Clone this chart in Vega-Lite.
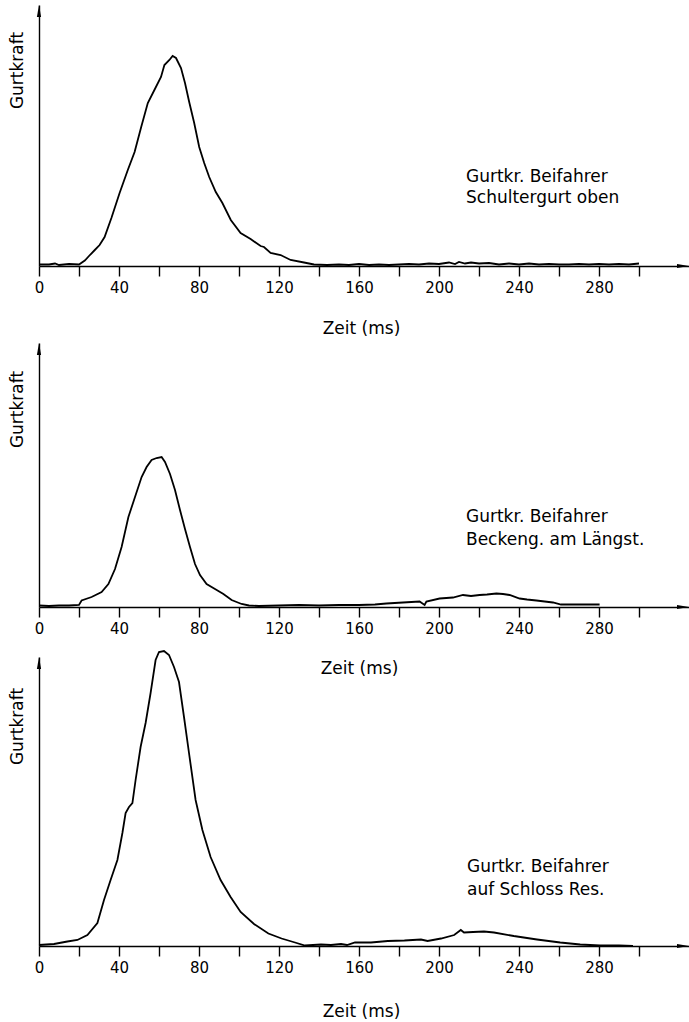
{
  "$schema": "https://vega.github.io/schema/vega-lite/v6.json",
  "background": "white",
  "padding": {"left": 8, "top": 5, "right": 0, "bottom": 0},
  "bounds": "flush",
  "spacing": 77,
  "config": {
    "view": {"stroke": null},
    "font": "DejaVu Sans",
    "axis": {"domainColor": "black", "domainWidth": 1.4, "tickColor": "black", "tickWidth": 1.4, "labelColor": "black", "titleColor": "black", "titleFontWeight": "normal", "grid": false, "labelFont": "DejaVu Sans", "titleFont": "DejaVu Sans"}
  },
  "vconcat": [
    {
      "width": 650,
      "height": 261,
      "layer": [
        {
          "data": {"values": [
            {"t":0,"f":0.03},{"t":5,"f":0.03},{"t":8,"f":0.05},{"t":10,"f":0.02},{"t":15,"f":0.04},{"t":20,"f":0.03},{"t":22.9,"f":0.11},{"t":25,"f":0.2},{"t":27.9,"f":0.32},{"t":30.3,"f":0.42},{"t":32.8,"f":0.58},{"t":36.2,"f":0.96},{"t":40.3,"f":1.46},{"t":44.4,"f":1.92},{"t":47.8,"f":2.28},{"t":51.1,"f":2.78},{"t":54.4,"f":3.26},{"t":57.7,"f":3.52},{"t":61.0,"f":3.78},{"t":62.7,"f":4.02},{"t":65.2,"f":4.12},{"t":66.8,"f":4.2},{"t":68.5,"f":4.16},{"t":71.0,"f":3.96},{"t":73.0,"f":3.66},{"t":75.1,"f":3.28},{"t":77.6,"f":2.86},{"t":80.1,"f":2.38},{"t":82.6,"f":2.06},{"t":85.1,"f":1.78},{"t":88.4,"f":1.48},{"t":91.7,"f":1.26},{"t":95.9,"f":0.92},{"t":100.8,"f":0.66},{"t":105.8,"f":0.54},{"t":110.8,"f":0.4},{"t":112.5,"f":0.38},{"t":115.8,"f":0.26},{"t":120.8,"f":0.22},{"t":125.8,"f":0.12},{"t":132.5,"f":0.07},{"t":137.5,"f":0.03},{"t":144,"f":0.02},{"t":150,"f":0.03},{"t":155,"f":0.02},{"t":160,"f":0.04},{"t":165,"f":0.02},{"t":170,"f":0.03},{"t":175,"f":0.02},{"t":180,"f":0.03},{"t":185,"f":0.04},{"t":190,"f":0.03},{"t":195,"f":0.05},{"t":200,"f":0.04},{"t":205,"f":0.07},{"t":208,"f":0.04},{"t":210,"f":0.08},{"t":213,"f":0.05},{"t":216,"f":0.07},{"t":220,"f":0.05},{"t":225,"f":0.06},{"t":230,"f":0.03},{"t":235,"f":0.05},{"t":240,"f":0.03},{"t":245,"f":0.05},{"t":250,"f":0.03},{"t":255,"f":0.04},{"t":260,"f":0.03},{"t":265,"f":0.03},{"t":270,"f":0.04},{"t":275,"f":0.03},{"t":280,"f":0.04},{"t":285,"f":0.03},{"t":290,"f":0.04},{"t":295,"f":0.03},{"t":300,"f":0.05}
          ]},
          "mark": {"type": "line", "color": "black", "strokeWidth": 1.8},
          "encoding": {
            "x": {"field": "t", "type": "quantitative", "scale": {"domain": [0, 325], "nice": false},
              "axis": {"values": [0,20,40,60,80,100,120,140,160,180,200,220,240,260,280,300], "labelExpr": "datum.value % 40 === 0 && datum.value <= 280 ? datum.label : ''", "tickSize": 10, "labelFontSize": 15, "labelPadding": 4, "labelFlush": false, "labelOverlap": false, "title": "Zeit (ms)", "titleFontSize": 17, "titleBaseline": "alphabetic", "titleAlign": "center", "titleX": 322, "titleY": 67}},
            "y": {"field": "f", "type": "quantitative", "scale": {"domain": [0, 5.22], "nice": false},
              "axis": {"ticks": false, "labels": false, "title": "Gurtkraft", "titleAngle": -90, "titleX": -17, "titleY": 65, "titleAlign": "center", "titleBaseline": "alphabetic", "titleFontSize": 17}}
          }
        },
        {
          "data": {"values": [{"t": 0, "f": 5.22, "dir": "up"}, {"t": 325, "f": 0, "dir": "right"}]},
          "mark": {"type": "point", "filled": true, "color": "black", "opacity": 1, "strokeWidth": 0},
          "encoding": {
            "x": {"field": "t", "type": "quantitative"},
            "y": {"field": "f", "type": "quantitative"},
            "shape": {"field": "dir", "type": "nominal", "scale": {"domain": ["up", "right"], "range": ["M0,0L0.35,2L-0.35,2Z", "M0,0L-2,0.35L-2,-0.35Z"]}, "legend": null},
            "size": {"value": 144}
          }
        },
        {
          "data": {"values": [{"t": 213.5, "f": 1.68, "txt": "Gurtkr. Beifahrer"}, {"t": 213.5, "f": 1.26, "txt": "Schultergurt  oben"}]},
          "mark": {"type": "text", "align": "left", "baseline": "alphabetic", "fontSize": 17, "color": "black"},
          "encoding": {
            "x": {"field": "t", "type": "quantitative"},
            "y": {"field": "f", "type": "quantitative"},
            "text": {"field": "txt"}
          }
        }
      ]
    },
    {
      "bounds": "flush",
      "spacing": 50,
      "vconcat": [
        {
          "width": 650,
          "height": 264,
          "layer": [
            {
              "data": {"values": [
                {"t":0,"f":0.03},{"t":5,"f":0.02},{"t":10,"f":0.03},{"t":15,"f":0.03},{"t":20,"f":0.04},{"t":21.3,"f":0.13},{"t":26.3,"f":0.2},{"t":31.3,"f":0.3},{"t":34.7,"f":0.46},{"t":38,"f":0.76},{"t":41.3,"f":1.2},{"t":44.7,"f":1.8},{"t":48,"f":2.2},{"t":51.3,"f":2.6},{"t":53.8,"f":2.8},{"t":56.3,"f":2.94},{"t":58.8,"f":2.98},{"t":61.3,"f":3.0},{"t":63,"f":2.9},{"t":65.5,"f":2.66},{"t":68,"f":2.34},{"t":70.5,"f":1.94},{"t":73,"f":1.56},{"t":75.5,"f":1.2},{"t":78,"f":0.86},{"t":80.5,"f":0.64},{"t":83.8,"f":0.46},{"t":88,"f":0.36},{"t":92.2,"f":0.26},{"t":96.3,"f":0.14},{"t":101.3,"f":0.06},{"t":105,"f":0.03},{"t":110,"f":0.02},{"t":120,"f":0.03},{"t":130,"f":0.04},{"t":140,"f":0.03},{"t":150,"f":0.04},{"t":160,"f":0.04},{"t":168,"f":0.05},{"t":173.7,"f":0.07},{"t":182,"f":0.09},{"t":190.3,"f":0.11},{"t":192.8,"f":0.04},{"t":193.7,"f":0.11},{"t":200.3,"f":0.17},{"t":207,"f":0.19},{"t":212,"f":0.24},{"t":216,"f":0.22},{"t":220.3,"f":0.24},{"t":224,"f":0.25},{"t":228.7,"f":0.27},{"t":232,"f":0.26},{"t":235.3,"f":0.24},{"t":240.3,"f":0.17},{"t":244,"f":0.15},{"t":248.7,"f":0.13},{"t":257,"f":0.09},{"t":261,"f":0.05},{"t":265.3,"f":0.05},{"t":273.7,"f":0.05},{"t":280.3,"f":0.05}
              ]},
              "mark": {"type": "line", "color": "black", "strokeWidth": 1.8},
              "encoding": {
                "x": {"field": "t", "type": "quantitative", "scale": {"domain": [0, 325], "nice": false},
                  "axis": {"values": [0,20,40,60,80,100,120,140,160,180,200,220,240,260,280,300], "labelExpr": "datum.value % 40 === 0 && datum.value <= 280 ? datum.label : ''", "tickSize": 10, "labelFontSize": 15, "labelPadding": 4, "labelFlush": false, "labelOverlap": false, "title": "Zeit (ms)", "titleFontSize": 17, "titleBaseline": "alphabetic", "titleAlign": "center", "titleX": 320, "titleY": 66}},
                "y": {"field": "f", "type": "quantitative", "scale": {"domain": [0, 5.28], "nice": false},
                  "axis": {"ticks": false, "labels": false, "title": "Gurtkraft", "titleAngle": -90, "titleX": -17, "titleY": 66, "titleAlign": "center", "titleBaseline": "alphabetic", "titleFontSize": 17}}
              }
            },
            {
              "data": {"values": [{"t": 0, "f": 5.28, "dir": "up"}, {"t": 325, "f": 0, "dir": "right"}]},
              "mark": {"type": "point", "filled": true, "color": "black", "opacity": 1, "strokeWidth": 0},
              "encoding": {
                "x": {"field": "t", "type": "quantitative"},
                "y": {"field": "f", "type": "quantitative"},
                "shape": {"field": "dir", "type": "nominal", "scale": {"domain": ["up", "right"], "range": ["M0,0L0.35,2L-0.35,2Z", "M0,0L-2,0.35L-2,-0.35Z"]}, "legend": null},
                "size": {"value": 144}
              }
            },
            {
              "data": {"values": [{"t": 213.5, "f": 1.7, "txt": "Gurtkr. Beifahrer"}, {"t": 213.5, "f": 1.24, "txt": "Beckeng. am Längst."}]},
              "mark": {"type": "text", "align": "left", "baseline": "alphabetic", "fontSize": 17, "color": "black"},
              "encoding": {
                "x": {"field": "t", "type": "quantitative"},
                "y": {"field": "f", "type": "quantitative"},
                "text": {"field": "txt"}
              }
            }
          ]
        },
        {
          "width": 650,
          "height": 289,
          "layer": [
            {
              "data": {"values": [
                {"t":0,"f":0.02},{"t":7.5,"f":0.04},{"t":14.2,"f":0.09},{"t":19.2,"f":0.12},{"t":24.2,"f":0.22},{"t":29.2,"f":0.46},{"t":32.5,"f":0.92},{"t":35.8,"f":1.32},{"t":39.2,"f":1.72},{"t":41.7,"f":2.26},{"t":43.3,"f":2.66},{"t":45,"f":2.78},{"t":46.7,"f":2.86},{"t":48.3,"f":3.32},{"t":50.8,"f":3.98},{"t":53.3,"f":4.46},{"t":55.8,"f":5.06},{"t":58.3,"f":5.72},{"t":60,"f":5.88},{"t":62.5,"f":5.9},{"t":65,"f":5.82},{"t":67.5,"f":5.58},{"t":70,"f":5.28},{"t":72.5,"f":4.58},{"t":75,"f":3.86},{"t":78.3,"f":2.92},{"t":81.7,"f":2.32},{"t":85.8,"f":1.78},{"t":90.8,"f":1.32},{"t":95.8,"f":0.98},{"t":100.8,"f":0.68},{"t":107.5,"f":0.44},{"t":114.7,"f":0.25},{"t":121.3,"f":0.15},{"t":128,"f":0.07},{"t":133,"f":0.01},{"t":141,"f":0.03},{"t":146,"f":0.02},{"t":151,"f":0.04},{"t":154,"f":0.02},{"t":158,"f":0.07},{"t":166,"f":0.07},{"t":174.4,"f":0.1},{"t":182.7,"f":0.11},{"t":191,"f":0.13},{"t":194.3,"f":0.1},{"t":201,"f":0.15},{"t":207.6,"f":0.22},{"t":210.9,"f":0.32},{"t":212.5,"f":0.27},{"t":217,"f":0.28},{"t":222.5,"f":0.29},{"t":227.5,"f":0.27},{"t":237.4,"f":0.2},{"t":249,"f":0.13},{"t":260.6,"f":0.07},{"t":270.6,"f":0.03},{"t":280.5,"f":0.01},{"t":290,"f":0.01},{"t":297,"f":0.0}
              ]},
              "mark": {"type": "line", "color": "black", "strokeWidth": 1.8},
              "encoding": {
                "x": {"field": "t", "type": "quantitative", "scale": {"domain": [0, 325], "nice": false},
                  "axis": {"values": [0,20,40,60,80,100,120,140,160,180,200,220,240,260,280,300], "labelExpr": "datum.value % 40 === 0 && datum.value <= 280 ? datum.label : ''", "tickSize": 10, "labelFontSize": 15, "labelPadding": 4, "labelFlush": false, "labelOverlap": false, "title": "Zeit (ms)", "titleFontSize": 17, "titleBaseline": "alphabetic", "titleAlign": "center", "titleX": 322, "titleY": 70}},
                "y": {"field": "f", "type": "quantitative", "scale": {"domain": [0, 5.78], "nice": false},
                  "axis": {"ticks": false, "labels": false, "title": "Gurtkraft", "titleAngle": -90, "titleX": -17, "titleY": 69, "titleAlign": "center", "titleBaseline": "alphabetic", "titleFontSize": 17}}
              }
            },
            {
              "data": {"values": [{"t": 0, "f": 5.78, "dir": "up"}, {"t": 325, "f": 0, "dir": "right"}]},
              "mark": {"type": "point", "filled": true, "color": "black", "opacity": 1, "strokeWidth": 0},
              "encoding": {
                "x": {"field": "t", "type": "quantitative"},
                "y": {"field": "f", "type": "quantitative"},
                "shape": {"field": "dir", "type": "nominal", "scale": {"domain": ["up", "right"], "range": ["M0,0L0.35,2L-0.35,2Z", "M0,0L-2,0.35L-2,-0.35Z"]}, "legend": null},
                "size": {"value": 144}
              }
            },
            {
              "data": {"values": [{"t": 214, "f": 1.48, "txt": "Gurtkr. Beifahrer"}, {"t": 214, "f": 1.02, "txt": "auf  Schloss Res."}]},
              "mark": {"type": "text", "align": "left", "baseline": "alphabetic", "fontSize": 17, "color": "black"},
              "encoding": {
                "x": {"field": "t", "type": "quantitative"},
                "y": {"field": "f", "type": "quantitative"},
                "text": {"field": "txt"}
              }
            }
          ]
        }
      ]
    }
  ]
}
